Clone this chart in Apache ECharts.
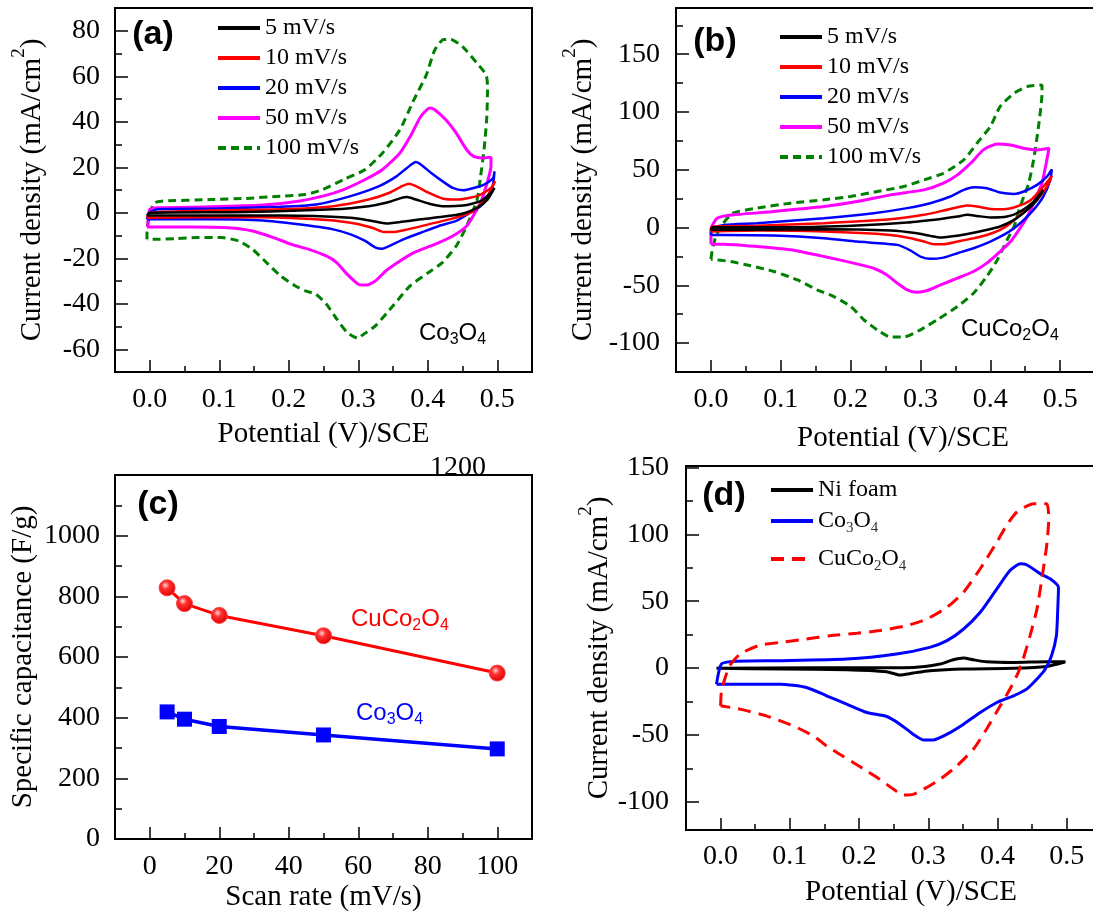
<!DOCTYPE html>
<html>
<head>
<meta charset="utf-8">
<style>
  html, body { margin: 0; padding: 0; background: #ffffff; }
  #chart { width: 1093px; height: 913px; }
</style>
<script src="https://cdn.jsdelivr.net/npm/echarts@6/dist/echarts.min.js"></script>
</head>
<body>
<div id="chart"></div>
<script>
// ---------- (a) Co3O4 cyclic voltammograms, [potential V, current mA/cm2] ----------
const cvA_5 = [[-0.004,-1.2],[0,0],[0.138,0.3],[0.264,1.5],[0.315,2.9],[0.34,4.4],[0.36,6.3],[0.37,6.9],[0.383,5.8],[0.401,4.1],[0.421,2.9],[0.451,3.2],[0.476,5.1],[0.491,8.8],[0.496,10.9],[0.486,5.8],[0.471,2.2],[0.451,-0.3],[0.421,-1.8],[0.39,-2.9],[0.36,-4.1],[0.34,-4.7],[0.32,-3.6],[0.289,-2.2],[0.188,-1.2],[-0.004,-1.2]];
const cvA_10 = [[-0.004,-2.2],[0,0],[0.087,1],[0.188,1.5],[0.264,2.9],[0.315,5.8],[0.345,8.8],[0.363,11.7],[0.373,12.8],[0.383,11.7],[0.401,8.8],[0.421,6.3],[0.441,5.8],[0.461,6.6],[0.476,8],[0.491,10.9],[0.497,13.9],[0.486,7.3],[0.471,2.2],[0.456,-0.7],[0.431,-2.9],[0.401,-5.1],[0.371,-7.3],[0.35,-8.5],[0.337,-8.5],[0.32,-6.6],[0.289,-4.4],[0.239,-2.9],[0.138,-1.9],[-0.004,-2.2]];
const cvA_20 = [[-0.004,-2.9],[0,0.3],[0.012,1.5],[0.087,1.8],[0.188,2.6],[0.239,3.6],[0.289,7.3],[0.33,11.7],[0.355,16],[0.37,19.7],[0.383,22.3],[0.39,21.2],[0.405,17.5],[0.421,13.9],[0.436,10.9],[0.451,9.9],[0.466,10.9],[0.481,12.4],[0.494,15.3],[0.496,18.2],[0.494,12.4],[0.489,8],[0.476,2.9],[0.461,0],[0.441,-3.6],[0.416,-5.8],[0.39,-8.8],[0.365,-11.7],[0.345,-14.6],[0.335,-15.8],[0.325,-15.3],[0.31,-12.4],[0.289,-9.5],[0.264,-7.3],[0.214,-5.1],[0.163,-3.4],[0.087,-2.9],[-0.004,-2.9]];
const cvA_50 = [[-0.004,-6.3],[-0.003,-5.8],[0,1.5],[0.012,2.2],[0.087,2.6],[0.163,3.4],[0.214,5.1],[0.249,7.3],[0.279,10.2],[0.31,14.6],[0.335,19],[0.36,26.3],[0.375,33.6],[0.39,42.3],[0.403,46],[0.41,45.3],[0.426,40.9],[0.441,35],[0.456,27.7],[0.466,24.8],[0.479,24.1],[0.491,24.4],[0.491,20.4],[0.484,11.7],[0.476,4.4],[0.468,0],[0.456,-5.8],[0.436,-10.2],[0.41,-13.9],[0.38,-17.5],[0.36,-21.2],[0.34,-25.5],[0.325,-29.9],[0.312,-31.8],[0.3,-31.4],[0.284,-27],[0.269,-21.9],[0.254,-19],[0.229,-16.1],[0.204,-13.9],[0.178,-10.9],[0.148,-8],[0.113,-6.6],[0.062,-6.3],[-0.004,-6.3]];
const cvA_100 = [[-0.004,-11.7],[-0.004,-8.8],[0,0],[0.007,4.4],[0.017,5.1],[0.087,5.8],[0.138,6.3],[0.188,7.3],[0.224,8],[0.249,10.2],[0.279,14.6],[0.31,19],[0.335,26.3],[0.36,36.5],[0.38,49.6],[0.398,60.6],[0.41,71.5],[0.423,76.2],[0.433,76.2],[0.45,73],[0.471,65.7],[0.484,60.6],[0.486,55.5],[0.485,42.3],[0.481,27.7],[0.476,16],[0.471,5.8],[0.456,-5.8],[0.441,-14.6],[0.421,-21.9],[0.401,-26.3],[0.375,-32],[0.35,-40.9],[0.325,-49.6],[0.305,-54],[0.3,-55.2],[0.284,-52.6],[0.269,-46.7],[0.254,-40.1],[0.239,-35.8],[0.224,-34.3],[0.209,-32.1],[0.188,-27.7],[0.168,-21.9],[0.148,-16.1],[0.128,-12.4],[0.103,-10.9],[0.067,-10.9],[0.037,-11.4],[0.007,-11.7],[-0.004,-11.7]];

// ---------- (b) CuCo2O4 cyclic voltammograms ----------
const cvB_5 = [[0,-2],[0.002,0.3],[0.114,0.3],[0.209,1.8],[0.281,4.4],[0.329,7.5],[0.353,9.5],[0.367,11],[0.381,10.1],[0.4,8.7],[0.424,9.5],[0.443,13.9],[0.462,22.5],[0.476,32.6],[0.467,23.9],[0.453,15.3],[0.434,6.6],[0.414,0.9],[0.391,-2.6],[0.367,-5.5],[0.343,-7.8],[0.329,-8.7],[0.314,-7.2],[0.295,-4.9],[0.257,-2.6],[0.162,-1.4],[0.066,-2],[0,-2]];
const cvB_10 = [[0,-3.4],[0.002,0.9],[0.066,1.5],[0.162,3.8],[0.257,7.2],[0.305,11],[0.333,14.7],[0.353,17.6],[0.367,19],[0.381,18.2],[0.4,16.1],[0.419,15.9],[0.438,18.2],[0.458,23.9],[0.476,35.5],[0.488,44.7],[0.481,35.5],[0.467,23.9],[0.448,13.9],[0.429,3.8],[0.414,-2],[0.395,-6.4],[0.376,-9.2],[0.353,-12.1],[0.333,-14.4],[0.319,-14.4],[0.305,-12.1],[0.286,-9.2],[0.257,-6.4],[0.162,-3.5],[0.066,-2.6],[0,-3.4]];
const cvB_20 = [[0,-6.4],[0.002,-0.6],[0.019,2.3],[0.066,3.8],[0.162,8.1],[0.233,12.4],[0.281,16.8],[0.314,21.1],[0.343,26.9],[0.362,32.6],[0.376,34.9],[0.395,34],[0.414,30.3],[0.434,29.1],[0.448,31.2],[0.467,36.9],[0.481,44.1],[0.488,50.4],[0.486,41.2],[0.476,26.9],[0.464,16.8],[0.448,6.6],[0.434,-0.6],[0.419,-6.4],[0.4,-12.1],[0.376,-17.9],[0.353,-22.2],[0.333,-26],[0.314,-27.1],[0.3,-25.1],[0.286,-19.9],[0.267,-15],[0.209,-12.1],[0.162,-9.2],[0.09,-6.9],[0.019,-6.4],[0,-6.4]];
const cvB_50 = [[0,-14.4],[0,-2],[0.009,8.1],[0.033,11],[0.09,13.9],[0.162,18.2],[0.209,22.5],[0.257,28.3],[0.305,32.6],[0.333,38.4],[0.353,45.6],[0.372,55.7],[0.39,67.2],[0.41,72.4],[0.429,71.5],[0.448,68.6],[0.467,67.2],[0.484,68.6],[0.481,58.6],[0.474,38.4],[0.464,24],[0.453,9.5],[0.441,-2],[0.429,-12.1],[0.414,-20.8],[0.395,-30.8],[0.376,-38],[0.353,-43.8],[0.329,-49.6],[0.31,-54.5],[0.295,-56],[0.281,-53.9],[0.267,-48.2],[0.252,-41],[0.233,-35.2],[0.209,-31.4],[0.162,-25.1],[0.114,-19.3],[0.066,-16.4],[0.019,-14.4],[0,-14.4]];
const cvB_100 = [[0,-27.4],[0.002,-19.3],[0.007,-7.8],[0.016,2.3],[0.031,12.4],[0.066,16.8],[0.114,21.1],[0.162,24],[0.2,26.9],[0.238,31.2],[0.276,35.5],[0.305,41.2],[0.333,47],[0.362,58.6],[0.381,73],[0.4,87.4],[0.414,104.7],[0.434,116.2],[0.453,122],[0.474,123.4],[0.474,116.2],[0.469,87.4],[0.462,58.6],[0.455,38.4],[0.448,26.9],[0.441,15.3],[0.434,0.9],[0.424,-10.7],[0.41,-28],[0.395,-42.3],[0.376,-56.8],[0.353,-68.3],[0.324,-79.8],[0.3,-88.5],[0.276,-94.8],[0.257,-94.8],[0.238,-88.5],[0.219,-79.8],[0.2,-68.3],[0.176,-59.7],[0.152,-53.9],[0.124,-45.3],[0.09,-38],[0.057,-33.1],[0.028,-29.4],[0,-27.4]];

// ---------- (c) specific capacitance vs scan rate ----------
const scanRates = [5, 10, 20, 50, 100];
const capCuCo2O4 = [828, 776, 737, 670, 547];
const capCo3O4 = [419, 395, 371, 343, 297];

// ---------- (d) comparison at 100 mV/s ----------
const cvD_ni = [[-0.006,-0.2],[0.134,0.2],[0.278,0.5],[0.317,3],[0.336,6.2],[0.351,7.5],[0.365,6.2],[0.384,4.7],[0.423,4.2],[0.471,4.7],[0.498,4.7],[0.471,1.2],[0.423,-0.2],[0.351,-0.7],[0.302,-2],[0.278,-3.7],[0.259,-5.2],[0.24,-2.7],[0.182,-1.2],[0.086,-0.7],[-0.006,-0.2]];
const cvD_co = [[-0.006,-12],[0.001,3],[0.018,5],[0.086,5.5],[0.182,6.7],[0.254,10.5],[0.302,15.5],[0.327,20.5],[0.351,29.2],[0.375,41.7],[0.399,59.2],[0.418,72.9],[0.433,77.9],[0.442,77.2],[0.462,70.4],[0.476,66.7],[0.488,60.4],[0.487,44.2],[0.485,24.2],[0.478,9.2],[0.469,-0.7],[0.459,-7],[0.442,-15.7],[0.423,-20.7],[0.399,-25.7],[0.375,-33.2],[0.351,-41.9],[0.327,-49.4],[0.307,-53.7],[0.293,-53.7],[0.278,-49.4],[0.259,-41.9],[0.24,-36.2],[0.211,-33.2],[0.182,-27],[0.153,-20.7],[0.124,-14.5],[0.086,-12],[0.038,-12],[-0.006,-12]];
const cvD_cu = [[0,-28.2],[0.001,-18.2],[0.006,-8.2],[0.013,1.7],[0.028,10.5],[0.057,17.2],[0.086,19.2],[0.124,21.7],[0.158,24.2],[0.197,26],[0.23,28],[0.269,31.7],[0.298,36.7],[0.327,45.4],[0.351,56.7],[0.375,74.2],[0.399,94.1],[0.413,106.6],[0.428,116.6],[0.452,122.8],[0.471,122.8],[0.474,111.6],[0.471,91.6],[0.464,66.7],[0.457,44.2],[0.447,24.2],[0.437,6.7],[0.43,-3.2],[0.418,-15.7],[0.404,-28.2],[0.384,-45.7],[0.365,-60.7],[0.341,-73.2],[0.317,-83.1],[0.293,-90.6],[0.278,-94.4],[0.264,-94.9],[0.25,-90.6],[0.23,-83.1],[0.211,-76.9],[0.192,-70.7],[0.172,-64.4],[0.153,-58.2],[0.134,-50.7],[0.105,-43.2],[0.066,-35.7],[0.028,-30.7],[0,-28.2]];

// ---------- tick values ----------
const potentialTicks = [0, 0.1, 0.2, 0.3, 0.4, 0.5];
const potentialMinor = [0.05, 0.15, 0.25, 0.35, 0.45];
const currentTicksA = [-60, -40, -20, 0, 20, 40, 60, 80];
const currentMinorA = [-50, -30, -10, 10, 30, 50, 70];
const currentTicksB = [-100, -50, 0, 50, 100, 150];
const currentMinorB = [-75, -25, 25, 75, 125, 175];
const rateTicks = [0, 20, 40, 60, 80, 100];
const rateMinor = [10, 30, 50, 70, 90];
const capTicks = [0, 200, 400, 600, 800, 1000];
const capMinor = [100, 300, 500, 700, 900, 1100];
const currentTicksD = [-100, -50, 0, 50, 100, 150];
const currentMinorD = [-75, -25, 25, 75, 125];

const rateNames = ['5 mV/s', '10 mV/s', '20 mV/s', '50 mV/s', '100 mV/s'];

const SERIF = '"Liberation Serif", "Times New Roman", serif';
const SANS = '"Liberation Sans", Arial, sans-serif';
const TICK_FONT = 28;
const TITLE_FONT = 29;

const titleRich = {
  n: { fontFamily: SERIF, fontSize: TITLE_FONT, lineHeight: 44, color: '#000' },
  p: { fontFamily: SERIF, fontSize: 19, lineHeight: 19, verticalAlign: 'top', color: '#000' }
};
const densityName = '{n|Current density (mA/cm}{p|2}{n|)}';

function fmtPotential(v) { return Number(v).toFixed(1); }
function fmtPlain(v) { return String(Math.round(v)); }

function xAxes(gridIndex, min, max, major, minor, fmt, name, nameGap, margin) {
  return [
    {
      type: 'value', gridIndex, min, max, position: 'bottom',
      axisLine: { show: false, onZero: false }, splitLine: { show: false },
      axisTick: { show: true, inside: true, length: 12, customValues: major, lineStyle: { color: '#000', width: 1.5 } },
      axisLabel: { show: true, customValues: major, formatter: fmt, margin, color: '#000', fontFamily: SERIF, fontSize: TICK_FONT },
      name, nameLocation: 'middle', nameGap,
      nameTextStyle: { fontFamily: SERIF, fontSize: TITLE_FONT, color: '#000' }
    },
    {
      type: 'value', gridIndex, min, max, position: 'bottom',
      axisLine: { show: false, onZero: false }, splitLine: { show: false }, axisLabel: { show: false },
      axisTick: { show: true, inside: true, length: 6, customValues: minor, lineStyle: { color: '#000', width: 1.5 } }
    }
  ];
}

function yAxes(gridIndex, min, max, major, minor, name, nameGap, margin, rich) {
  return [
    {
      type: 'value', gridIndex, min, max, position: 'left',
      axisLine: { show: false, onZero: false }, splitLine: { show: false },
      axisTick: { show: true, inside: true, length: 13, customValues: major, lineStyle: { color: '#000', width: 1.5 } },
      axisLabel: { show: true, customValues: major, formatter: fmtPlain, margin, color: '#000', fontFamily: SERIF, fontSize: TICK_FONT },
      name, nameLocation: 'middle', nameGap,
      nameTextStyle: rich
        ? { rich: titleRich }
        : { fontFamily: SERIF, fontSize: TITLE_FONT, color: '#000' }
    },
    {
      type: 'value', gridIndex, min, max, position: 'left',
      axisLine: { show: false, onZero: false }, splitLine: { show: false }, axisLabel: { show: false },
      axisTick: { show: true, inside: true, length: 7, customValues: minor, lineStyle: { color: '#000', width: 1.5 } }
    }
  ];
}

const gridBase = { show: true, borderColor: '#000', borderWidth: 2, backgroundColor: 'transparent', containLabel: false, outerBoundsMode: 'none' };
const grids = [
  Object.assign({ left: 115, top: 8, width: 417, height: 364 }, gridBase),
  Object.assign({ left: 676, top: 8, width: 454, height: 364 }, gridBase),
  Object.assign({ left: 115, top: 475, width: 417, height: 364 }, gridBase),
  Object.assign({ left: 686, top: 466, width: 450, height: 364 }, gridBase)
];

const xAxisList = [].concat(
  xAxes(0, -0.05, 0.55, potentialTicks, potentialMinor, fmtPotential, 'Potential (V)/SCE', 48, 14),
  xAxes(1, -0.05, 0.6, potentialTicks, potentialMinor, fmtPotential, 'Potential (V)/SCE', 52, 14),
  xAxes(2, -10, 110, rateTicks, rateMinor, fmtPlain, 'Scan rate (mV/s)', 44, 14),
  xAxes(3, -0.05, 0.6, potentialTicks, potentialMinor, fmtPotential, 'Potential (V)/SCE', 48, 13)
);
const yAxisList = [].concat(
  yAxes(0, -70, 90, currentTicksA, currentMinorA, densityName, 61, 15, true),
  yAxes(1, -125, 190, currentTicksB, currentMinorB, densityName, 71, 16, true),
  yAxes(2, 0, 1200, capTicks, capMinor, 'Specific capacitance (F/g)', 77, 15, false),
  yAxes(3, -121, 151, currentTicksD, currentMinorD, densityName, 65, 17, true)
);

const rateColors = ['#000000', '#ff0000', '#0000ff', '#ff00ff', '#008000'];

function cvSeries(name, data, axisIdx, color, width, dash) {
  return {
    type: 'line', name, data,
    xAxisIndex: axisIdx, yAxisIndex: axisIdx,
    symbol: 'none', showSymbol: false, smooth: 0.2, clip: true,
    lineStyle: { color, width, type: dash || 'solid' },
    itemStyle: { color },
    emphasis: { disabled: true }
  };
}

const loopsA = [cvA_5, cvA_10, cvA_20, cvA_50, cvA_100];
const loopsB = [cvB_5, cvB_10, cvB_20, cvB_50, cvB_100];
const series = [];
[0, 2].forEach(function (axisIdx, panel) {
  const loops = panel === 0 ? loopsA : loopsB;
  // fastest scan first so the slower loops sit on top
  for (let i = loops.length - 1; i >= 0; i--) {
    const dashed = i === 4 ? [8, 5] : null;
    series.push(cvSeries(rateNames[i], loops[i], axisIdx, rateColors[i], i >= 3 ? 3 : 2.5, dashed));
  }
});

series.push({
  type: 'line', name: 'CuCo2O4 specific capacitance',
  xAxisIndex: 4, yAxisIndex: 4,
  data: scanRates.map(function (s, i) { return [s, capCuCo2O4[i]]; }),
  symbol: 'circle', symbolSize: 16,
  lineStyle: { color: '#ff0000', width: 3 },
  itemStyle: {
    color: { type: 'radial', x: 0.4, y: 0.35, r: 0.65,
      colorStops: [{ offset: 0, color: '#ffd6d6' }, { offset: 0.35, color: '#ff3030' }, { offset: 1, color: '#e00000' }] },
    borderColor: '#ff4040', borderWidth: 1
  },
  emphasis: { disabled: true }
});
series.push({
  type: 'line', name: 'Co3O4 specific capacitance',
  xAxisIndex: 4, yAxisIndex: 4,
  data: scanRates.map(function (s, i) { return [s, capCo3O4[i]]; }),
  symbol: 'rect', symbolSize: 15,
  lineStyle: { color: '#0000ff', width: 3.5 },
  itemStyle: { color: '#0000ff' },
  emphasis: { disabled: true }
});

series.push(cvSeries('Ni foam', cvD_ni, 6, '#000000', 3));
series.push(cvSeries('Co3O4', cvD_co, 6, '#0000ff', 3));
series.push(cvSeries('CuCo2O4', cvD_cu, 6, '#ff0000', 3, [13, 8]));

const legendRich = {
  n: { fontFamily: SERIF, fontSize: 24, lineHeight: 30, color: '#000' },
  s: { fontFamily: SERIF, fontSize: 15, lineHeight: 15, verticalAlign: 'bottom', color: '#333' }
};
function legendLabel(name) {
  if (name === 'Co3O4') return '{n|Co}{s|3}{n|O}{s|4}';
  if (name === 'CuCo2O4') return '{n|CuCo}{s|2}{n|O}{s|4}';
  return '{n|' + name + '}';
}
function legendAt(names, left, top) {
  return {
    data: names, left, top, orient: 'vertical', padding: 0,
    itemWidth: 42, itemHeight: 14, itemGap: 0,
    selectedMode: false,
    lineStyle: { width: 4 },
    // line-only keys: hide the point marker drawn in the middle of the key
    itemStyle: { opacity: 0 },
    formatter: legendLabel,
    textStyle: { fontFamily: SERIF, fontSize: 24, lineHeight: 30, color: '#000', rich: legendRich }
  };
}

const sansRich = function (color) {
  return {
    n: { fontFamily: SANS, fontSize: 24, lineHeight: 30, fill: color, color },
    s: { fontFamily: SANS, fontSize: 16, lineHeight: 16, verticalAlign: 'bottom', fill: color, color }
  };
};
function formulaText(text, x, y, color) {
  return {
    type: 'text', x, y, z: 10,
    style: { text, rich: sansRich(color), textAlign: 'left', textVerticalAlign: 'middle', fill: color }
  };
}
function panelTag(text, x, y) {
  return {
    type: 'text', x, y, z: 10,
    style: { text, fontFamily: SANS, fontWeight: 'bold', fontSize: 34, fill: '#000', textAlign: 'center', textVerticalAlign: 'middle' }
  };
}

const option = {
  backgroundColor: '#ffffff',
  animation: false,
  grid: grids,
  xAxis: xAxisList,
  yAxis: yAxisList,
  legend: [
    legendAt(rateNames, 216, 13),
    legendAt(rateNames, 778, 22),
    legendAt(['Ni foam'], 769, 475),
    legendAt(['Co3O4'], 769, 506),
    legendAt(['CuCo2O4'], 769, 544)
  ],
  series,
  graphic: [
    panelTag('(a)', 153, 35),
    panelTag('(b)', 715, 42),
    panelTag('(c)', 158, 505),
    panelTag('(d)', 724, 496),
    formulaText('{n|Co}{s|3}{n|O}{s|4}', 419, 333, '#000000'),
    formulaText('{n|CuCo}{s|2}{n|O}{s|4}', 961, 329, '#000000'),
    formulaText('{n|CuCo}{s|2}{n|O}{s|4}', 351, 619, '#ff0000'),
    formulaText('{n|Co}{s|3}{n|O}{s|4}', 356, 713, '#0000ff'),
    {
      type: 'text', x: 458, y: 468, z: 10,
      style: { text: '1200', fontFamily: SERIF, fontSize: TICK_FONT, fill: '#000', textAlign: 'center', textVerticalAlign: 'middle' }
    }
  ]
};

const chart = echarts.init(document.getElementById('chart'), null, { renderer: 'canvas' });
chart.setOption(option);
</script>
</body>
</html>
